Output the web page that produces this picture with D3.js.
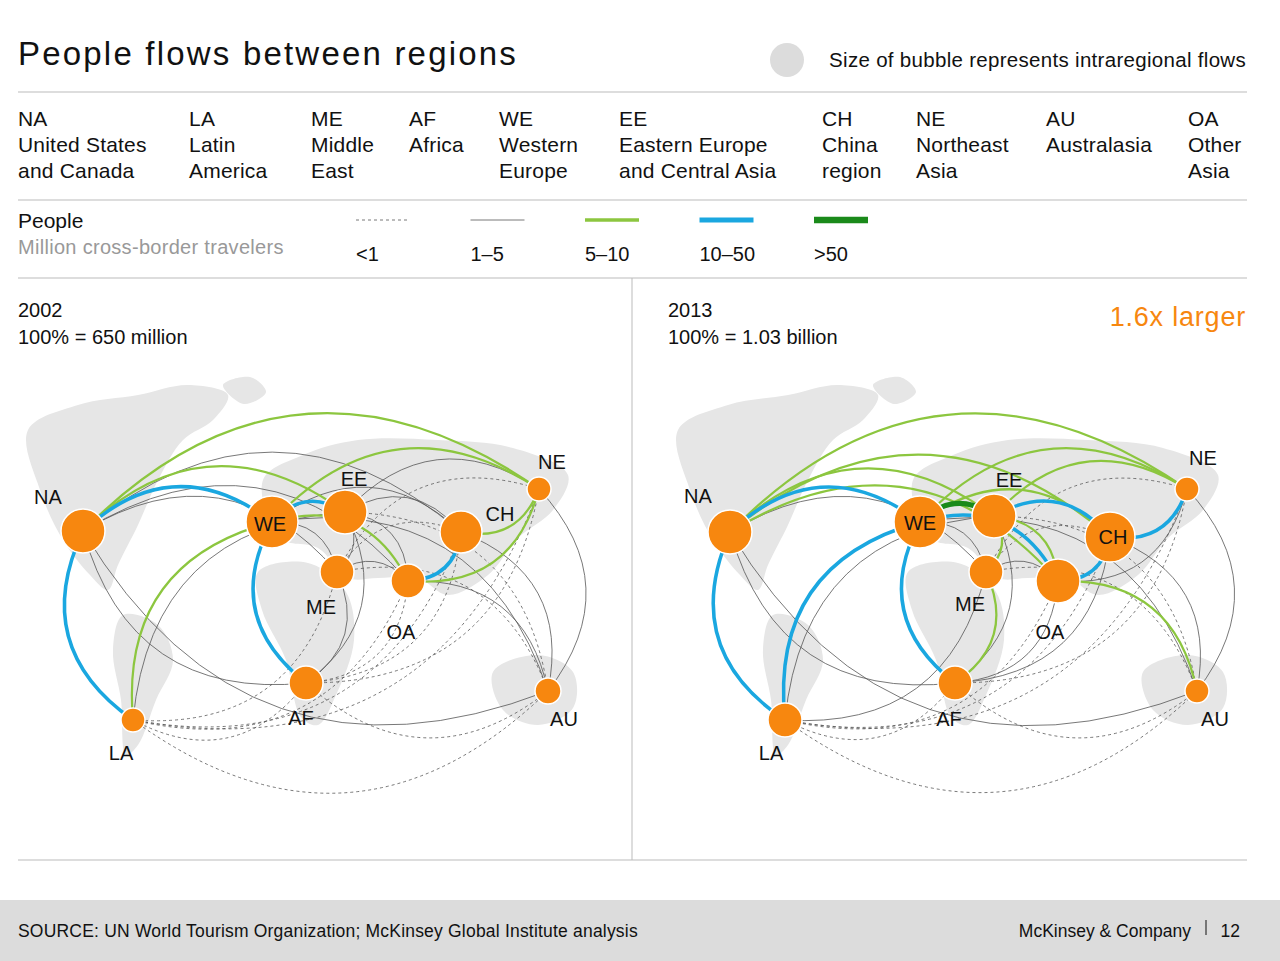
<!DOCTYPE html>
<html><head><meta charset="utf-8">
<script src="https://cdn.jsdelivr.net/npm/d3@7"></script>
<style>body{margin:0;background:#fff;font-family:Arial,"Liberation Sans",sans-serif}</style>
</head><body><svg id="c" width="1280" height="961"></svg>
<script>
var regionCodes = ["NA","LA","ME","AF","WE","EE","CH","NE","AU","OA"];
var regionNames = [["United States","and Canada"],["Latin","America"],["Middle","East"],["Africa"],["Western","Europe"],["Eastern Europe","and Central Asia"],["China","region"],["Northeast","Asia"],["Australasia"],["Other","Asia"]];
var regionX = [18,189,311,409,499,619,822,916,1046,1188];
var flowCats = ["<1","1–5","5–10","10–50",">50"];
var catColor = ["#555","#555","#8cc63f","#1aa7e0","#1a8a1a"];
var catWidth = [0.8,0.8,2.2,3.5,5];
var catDash = ["3,3",null,null,null,null];

// node positions in map units (0..600 wide panel), radius in px
var nodes2002 = {NA:[65,251,22],LA:[115,440,12],WE:[254,242,26],EE:[327,232,22],ME:[319,292,17],AF:[288,403,17],OA:[390,301,17],CH:[443,252,21],NE:[521,209,12],AU:[530,411,13]};
var nodes2013 = {NA:[62,252,22],LA:[117,440,17],WE:[252,242,26],EE:[326,236,22],ME:[318,292,17],AF:[287,403,17],OA:[390,301,22],CH:[442,257,25],NE:[519,209,12],AU:[529,411,12]};
var labelPos2002 = {NA:[30,224],LA:[103,480],WE:[252,251],EE:[336,206],ME:[303,334],AF:[283,445],OA:[383,359],CH:[482,241],NE:[534,189],AU:[546,446]};
var labelPos2013 = {NA:[30,223],LA:[103,480],WE:[252,250],EE:[341,207],ME:[302,331],AF:[281,446],OA:[382,359],CH:[445,264],NE:[535,185],AU:[547,446]};

// flows: [from, to, category index]
var flows2002 = [
 ["NA","LA",3],["NA","WE",3],["WE","AF",3],["WE","EE",3],["OA","CH",3],
 ["NA","NE",2],["NA","EE",2],["LA","WE",2],["WE","NE",2],["WE","OA",2],["CH","NE",2],["OA","NE",2],
 ["NA","ME",1],["NA","CH",1],["NA","OA",1],["NA","AF",1],["NA","AU",1],["WE","ME",1],["WE","CH",1],["EE","ME",1],["EE","CH",1],["EE","OA",1],["EE","NE",1],["ME","OA",1],["ME","AF",1],["EE","AF",1],["CH","AU",1],["NE","AU",1],["OA","AU",1],["WE","AU",1],["LA","EE",1],
 ["LA","ME",0],["LA","AF",0],["LA","OA",0],["LA","CH",0],["LA","NE",0],["LA","AU",0],["AF","OA",0],["AF","CH",0],["AF","NE",0],["AF","AU",0],["ME","CH",0],["ME","NE",0],["ME","AU",0],["EE","AU",0]
];
var flows2013 = [
 ["WE","EE",4],
 ["NA","LA",3],["NA","WE",3],["WE","AF",3],["LA","WE",3],["OA","CH",3],["CH","NE",3],["EE","CH",3],["WE","OA",3],
 ["NA","NE",2],["NA","EE",2],["NA","CH",2],["NA","OA",2],["WE","NE",2],["WE","CH",2],["EE","ME",2],["ME","AF",2],["EE","NE",2],["OA","AU",2],["EE","OA",2],
 ["NA","ME",1],["NA","AF",1],["NA","AU",1],["LA","EE",1],["LA","ME",1],["WE","ME",1],["EE","AF",1],["ME","OA",1],["CH","AU",1],["NE","AU",1],["WE","AU",1],["AF","OA",1],["OA","NE",1],["AF","CH",1],
 ["LA","AF",0],["LA","OA",0],["LA","CH",0],["LA","NE",0],["LA","AU",0],["AF","NE",0],["AF","AU",0],["ME","CH",0],["ME","NE",0],["ME","AU",0],["EE","AU",0]
];

// rough continent outlines (map units)
var landShapes = [
 [[10,150],[60,125],[120,115],[170,105],[210,115],[195,140],[165,160],[140,200],[120,245],[100,285],[90,310],[72,295],[45,260],[22,210]],
 [[105,335],[140,345],[155,380],[138,420],[120,465],[108,475],[103,420],[95,370]],
 [[245,200],[285,175],[340,160],[420,160],[495,168],[550,195],[535,230],[500,258],[470,295],[430,315],[400,298],[360,298],[330,298],[300,268],[262,258]],
 [[240,292],[290,283],[328,312],[336,360],[318,415],[300,445],[283,437],[268,380],[244,330]],
 [[475,392],[520,375],[555,392],[555,428],[520,445],[485,430]],
 [[205,105],[232,97],[248,112],[226,124]]
];

var svg = d3.select("#c");
var ink = "#111";

svg.append("text").attr("x",18).attr("y",65).attr("font-size",33).attr("letter-spacing",2.2).attr("fill",ink).text("People flows between regions");
svg.append("circle").attr("cx",787).attr("cy",60).attr("r",17).attr("fill","#dcdcdc");
svg.append("text").attr("x",1246).attr("y",67).attr("text-anchor","end").attr("font-size",20.5).attr("letter-spacing",0.3).attr("fill",ink).text("Size of bubble represents intraregional flows");

[92,200,278,860].forEach(function(y){
  svg.append("line").attr("x1",18).attr("x2",1247).attr("y1",y).attr("y2",y).attr("stroke","#bbb").attr("stroke-width",1);
});
svg.append("line").attr("x1",632).attr("x2",632).attr("y1",278).attr("y2",860).attr("stroke","#bbb");

regionCodes.forEach(function(c,i){
  var t = svg.append("text").attr("x",regionX[i]).attr("y",126).attr("font-size",21).attr("letter-spacing",0.2).attr("fill",ink);
  t.append("tspan").attr("x",regionX[i]).text(c);
  regionNames[i].forEach(function(n){ t.append("tspan").attr("x",regionX[i]).attr("dy",26).text(n); });
});

svg.append("text").attr("x",18).attr("y",228).attr("font-size",21).attr("fill",ink).text("People");
svg.append("text").attr("x",18).attr("y",254).attr("font-size",20).attr("letter-spacing",0.3).attr("fill","#999").text("Million cross-border travelers");
var legX = d3.scalePoint().domain(flowCats).range([377,835]);
flowCats.forEach(function(c,i){
  var x = legX(c);
  svg.append("line").attr("x1",x-21).attr("x2",x+33).attr("y1",220).attr("y2",220)
    .attr("stroke",catColor[i]).attr("stroke-width",i>1?catWidth[i]+1.5:catWidth[i]).attr("stroke-dasharray",catDash[i]);
  svg.append("text").attr("x",x-21).attr("y",261).attr("font-size",20).attr("fill",ink).text(c);
});

function drawPanel(px, year, base, nodes, labels, flows){
  var g = svg.append("g");
  var xs = d3.scaleLinear().domain([0,600]).range([px,px+600]);
  var ys = d3.scaleLinear().domain([0,600]).range([280,880]);
  g.append("text").attr("x",xs(0)).attr("y",317).attr("font-size",20).attr("fill",ink).text(year);
  g.append("text").attr("x",xs(0)).attr("y",344).attr("font-size",20).attr("fill",ink).text(base);
  var land = d3.line().x(function(d){return xs(d[0]);}).y(function(d){return ys(d[1]);}).curve(d3.curveCatmullRomClosed);
  landShapes.forEach(function(s){ g.append("path").attr("d",land(s)).attr("fill","#e6e6e6"); });
  var cx = 300, cy = 300;
  flows.slice().sort(function(a,b){return a[2]-b[2];}).forEach(function(f){
    var a = nodes[f[0]], b = nodes[f[1]];
    var x1 = xs(a[0]), y1 = ys(a[1]), x2 = xs(b[0]), y2 = ys(b[1]);
    var mx = (x1+x2)/2, my = (y1+y2)/2, dx = x2-x1, dy = y2-y1;
    var len = Math.sqrt(dx*dx+dy*dy);
    var nx = -dy/len, ny = dx/len;
    var k = 0.42*len;
    if ((mx+nx*k-xs(cx))*(mx+nx*k-xs(cx))+(my+ny*k-ys(cy))*(my+ny*k-ys(cy)) < (mx-nx*k-xs(cx))*(mx-nx*k-xs(cx))+(my-ny*k-ys(cy))*(my-ny*k-ys(cy))) { nx=-nx; ny=-ny; }
    var p = d3.path();
    p.moveTo(x1,y1);
    p.quadraticCurveTo(mx+nx*k, my+ny*k, x2, y2);
    g.append("path").attr("d",p.toString()).attr("fill","none")
      .attr("stroke",catColor[f[2]]).attr("stroke-width",catWidth[f[2]]).attr("stroke-dasharray",catDash[f[2]]);
  });
  Object.keys(nodes).forEach(function(k){
    var n = nodes[k];
    g.append("circle").attr("cx",xs(n[0])).attr("cy",ys(n[1])).attr("r",n[2]).attr("fill","#f7870f").attr("stroke","#fff").attr("stroke-width",1.5);
    var l = labels[k];
    g.append("text").attr("x",xs(l[0])).attr("y",ys(l[1])).attr("text-anchor","middle").attr("font-size",20).attr("fill",ink).text(k);
  });
}
drawPanel(18,"2002","100% = 650 million",nodes2002,labelPos2002,flows2002);
drawPanel(668,"2013","100% = 1.03 billion",nodes2013,labelPos2013,flows2013);
svg.append("text").attr("x",1246).attr("y",326).attr("text-anchor","end").attr("font-size",27).attr("letter-spacing",0.8).attr("fill","#f7870f").text("1.6x larger");

svg.append("rect").attr("x",0).attr("y",900).attr("width",1280).attr("height",61).attr("fill","#dcdcdc");
svg.append("text").attr("x",18).attr("y",937).attr("font-size",17.5).attr("letter-spacing",0.2).attr("fill",ink).text("SOURCE: UN World Tourism Organization; McKinsey Global Institute analysis");
svg.append("text").attr("x",1191).attr("y",937).attr("text-anchor","end").attr("font-size",17.5).attr("fill",ink).text("McKinsey & Company");
svg.append("line").attr("x1",1206).attr("x2",1206).attr("y1",920).attr("y2",935).attr("stroke",ink);
svg.append("text").attr("x",1240).attr("y",937).attr("text-anchor","end").attr("font-size",17.5).attr("fill",ink).text("12");
</script></body></html>
